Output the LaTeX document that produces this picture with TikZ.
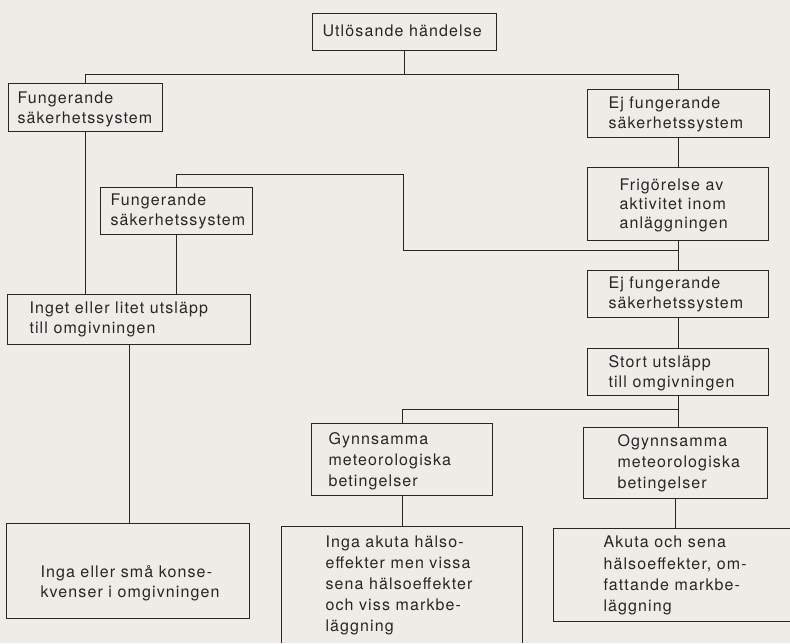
\documentclass[tikz,border=0pt]{standalone}
\usepackage{fontspec}
\setmainfont[LetterSpace=7]{TeX Gyre Heros}
\definecolor{paper}{RGB}{238,236,231}
\definecolor{ink}{RGB}{40,38,36}
% #1 text area width, #2 vertical lift, #3 lines
\newcommand\bt[3]{\raisebox{#2}[\height][\depth]{\makebox[#1][l]{\begin{tabular}{@{}l@{}}#3\end{tabular}}}}
\begin{document}
\begin{tikzpicture}[x=1pt,y=-1pt,
  box/.style={draw=ink, line width=1pt, anchor=north west, inner sep=0pt, text=ink,
              font=\fontsize{16}{20}\selectfont},
  bs/.style={font=\fontsize{16}{#1}\selectfont},
  openbox/.style={box, draw=none},
  link/.style={draw=ink, line width=1pt}]
\fill[paper] (0,0) rectangle (790,643);
\useasboundingbox (0,0) rectangle (790,643);

\node[box, minimum width=184pt, minimum height=37pt] (top) at (312,13) {\bt{164pt}{0pt}{Utlösande händelse}};
\node[box, minimum width=154pt, minimum height=48pt] (f1) at (8,83) {\bt{136pt}{-2pt}{Fungerande\\säkerhetssystem}};
\node[box, minimum width=182pt, minimum height=48pt] (e1) at (587,89) {\bt{140pt}{-1pt}{Ej fungerande\\säkerhetssystem}};
\node[box, minimum width=152pt, minimum height=47pt] (f2) at (100,187) {\bt{132pt}{0pt}{Fungerande\\säkerhetssystem}};
\node[box, bs=19, minimum width=181pt, minimum height=73pt] (frig) at (587,167) {\bt{117pt}{-2pt}{Frigörelse av\\aktivitet inom\\anläggningen}};
\node[box, minimum width=181pt, minimum height=47pt] (e2) at (587,270) {\bt{139pt}{0pt}{Ej fungerande\\säkerhetssystem}};
\node[box, minimum width=181pt, minimum height=47pt] (stort) at (587,348) {\bt{139pt}{-1.5pt}{Stort utsläpp\\till omgivningen}};
\node[box, minimum width=243pt, minimum height=50pt] (inget) at (7,294) {\bt{199pt}{0pt}{Inget eller litet utsläpp\\till omgivningen}};
\node[box, minimum width=243pt, minimum height=95pt] (ingaS) at (6,523) {\bt{175pt}{-12.5pt}{Inga eller små konse-\\kvenser i omgivningen}};
\node[box, bs=21, minimum width=181pt, minimum height=72pt] (gyn) at (311,423) {\bt{147pt}{-2pt}{Gynnsamma\\meteorologiska\\betingelser}};
\node[box, bs=21, minimum width=184pt, minimum height=71pt] (ogyn) at (583,427) {\bt{116pt}{0pt}{Ogynnsamma\\meteorologiska\\betingelser}};
\node[openbox, bs=21, minimum width=240pt, minimum height=118pt] (ingaA) at (281,526) {\bt{152pt}{0pt}{Inga akuta hälso-\\effekter men vissa\\sena hälsoeffekter\\och viss markbe-\\läggning}};
\node[openbox, bs=21.3, minimum width=237pt, minimum height=92pt] (akuta) at (553,528) {\bt{137pt}{-1pt}{Akuta och sena\\hälsoeffekter, om-\\fattande markbe-\\läggning}};

\coordinate (h1) at (0,74);
\coordinate (h2) at (403,174);
\coordinate (h3) at (0,250);
\coordinate (h4) at (0,409);
\coordinate (B) at (0,643);
\coordinate (R) at (790,0);

\draw[link] (top.south) -- (top.south |- h1);
\draw[link] (f1.north) -- (f1.north |- h1) -- (e1.north |- h1) -- (e1.north);
\draw[link] (f1.south) -- (f1.south |- inget.north);
\draw[link] (f2.north) |- (h2) -- (h2 |- h3) -- (frig.south |- h3);
\draw[link] (f2.south) -- (f2.south |- inget.north);
\draw[link] (e1.south) -- (e1.south |- frig.north);
\draw[link] (frig.south) -- (frig.south |- e2.north);
\draw[link] (e2.south) -- (e2.south |- stort.north);
\draw[link] (stort.south) -- (stort.south |- ogyn.north);
\draw[link] (stort.south |- h4) -- (gyn.north |- h4) -- (gyn.north);
\draw[link] (inget.south) -- (inget.south |- ingaS.north);
\draw[link] (gyn.south) -- (gyn.south |- ingaA.north);
\draw[link] (ogyn.south) -- (ogyn.south |- akuta.north);

\draw[link] (ingaA.north west |- B) -- (ingaA.north west) -- (ingaA.north east) -- (ingaA.north east |- B);
\draw[link] (akuta.north west -| R) -- (akuta.north west) -- (akuta.south west) -- (akuta.south west -| R);
\end{tikzpicture}
\end{document}
